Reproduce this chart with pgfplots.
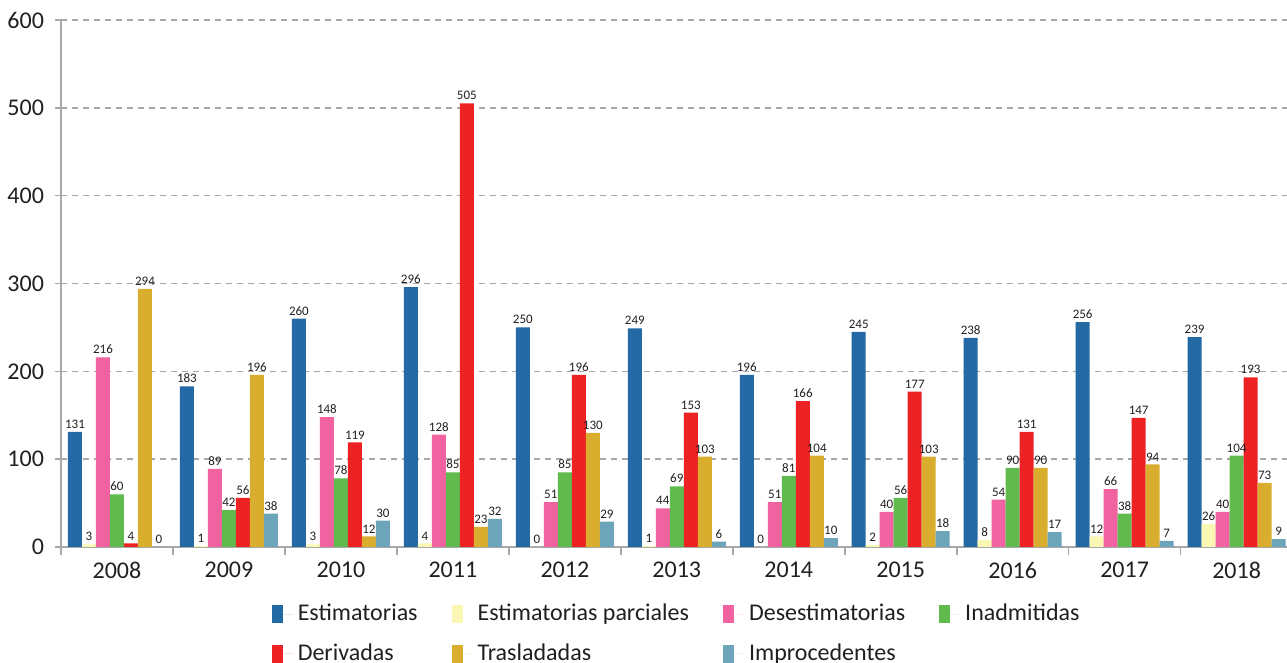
\documentclass[border=0pt]{standalone}
\usepackage{pgfplots}
\usepackage{pgfplotstable}
\pgfplotsset{compat=1.18}
\usepackage{fontspec}
\setmainfont{Carlito}
\definecolor{cEst}{RGB}{35,105,164}
\definecolor{cPar}{RGB}{250,246,180}
\definecolor{cDes}{RGB}{240,98,160}
\definecolor{cIna}{RGB}{96,186,78}
\definecolor{cDer}{RGB}{236,34,36}
\definecolor{cTra}{RGB}{217,174,47}
\definecolor{cImp}{RGB}{108,165,186}
\definecolor{axgray}{RGB}{168,168,168}
\definecolor{txt}{RGB}{35,31,32}
\pgfplotstableread{
x est par des ina der tra imp
0 131 3 216 60 4 294 0
1 183 1 89 42 56 196 38
2 260 3 148 78 119 12 30
3 296 4 128 85 505 23 32
4 250 0 51 85 196 130 29
5 249 1 44 69 153 103 6
6 196 0 51 81 166 104 10
7 245 2 40 56 177 103 18
8 238 8 54 90 131 90 17
9 256 12 66 38 147 94 7
10 239 26 40 104 193 73 9
}\datatable
\begin{document}
\begin{tikzpicture}
\begin{axis}[
  at={(0,0)}, anchor=south west,
  scale only axis, width=613pt, height=263.5pt,
  xmin=-0.5, xmax=10.45, ymin=0, ymax=600,
  ybar=0pt, bar width=7pt,
  axis lines*=left,
  axis line style={-, draw=axgray, line width=0.8pt},
  clip=false,
  ytick={0,100,...,600},
  xtick={0,...,10},
  xticklabels={2008,2009,2010,2011,2012,2013,2014,2015,2016,2017,2018},
  minor xtick={-0.5,0.5,...,10.5},
  tick align=outside,
  major tick length=3pt, minor tick length=4pt,
  every major x tick/.append style={draw=none},
  every tick/.append style={draw=axgray, line width=0.8pt},
  ymajorgrids,
  grid style={dashed, dash pattern=on 3pt off 2.5pt, draw=axgray, line width=0.7pt},
  /pgf/number format/assume math mode=true,
  ticklabel style={font=\fontsize{12}{14}\selectfont, text=txt},
  yticklabel style={xshift=-2pt},
  xticklabel style={yshift=-1pt},
  nodes near coords,
  every node near coord/.append style={font=\fontsize{6.5}{6.5}\selectfont, text=txt, inner sep=1.5pt},
  every axis plot/.append style={draw=none, legend image code/.code={\fill[##1] (0pt,-4.5pt) rectangle (5.5pt,4.5pt); \path (0pt,0pt) -- (11pt,0pt);}},
  legend columns=4,
  legend cell align=left,
  legend style={draw=none, fill=none, at={(0.1667,-0.0926)}, anchor=north west,
    font=\fontsize{12}{14}\selectfont, text=txt,
    /tikz/every even column/.append style={column sep=15pt},
    row sep=6pt},
]
\addplot[fill=cEst] table[x=x,y=est]{\datatable};
\addlegendentry{Estimatorias}
\addplot[fill=cPar] table[x=x,y=par]{\datatable};
\addlegendentry{Estimatorias parciales}
\addplot[fill=cDes] table[x=x,y=des]{\datatable};
\addlegendentry{Desestimatorias}
\addplot[fill=cIna] table[x=x,y=ina]{\datatable};
\addlegendentry{Inadmitidas}
\addplot[fill=cDer] table[x=x,y=der]{\datatable};
\addlegendentry{Derivadas}
\addplot[fill=cTra] table[x=x,y=tra]{\datatable};
\addlegendentry{Trasladadas}
\addplot[fill=cImp] table[x=x,y=imp]{\datatable};
\addlegendentry{Improcedentes}
\end{axis}
\pgfresetboundingbox
\path[use as bounding box] (-30.5pt,-58pt) rectangle (613pt,273.5pt);
\end{tikzpicture}
\end{document}
